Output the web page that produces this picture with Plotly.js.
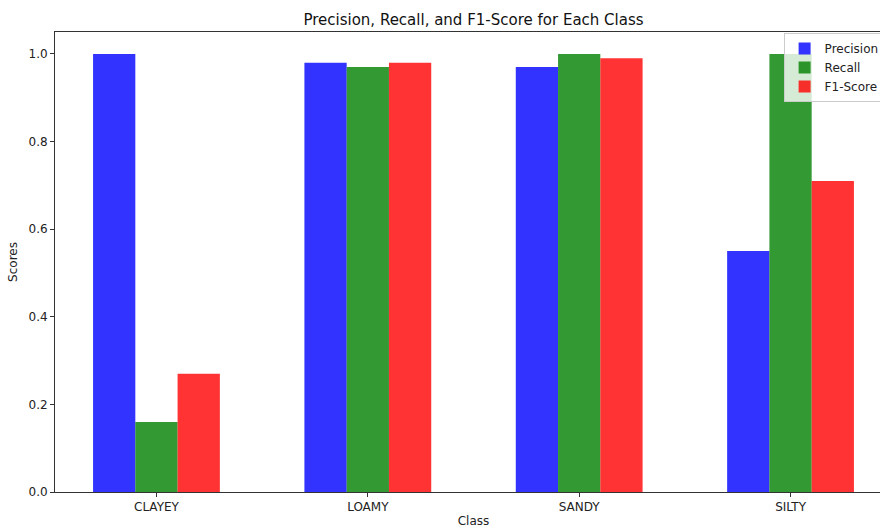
<!DOCTYPE html>
<html>
<head>
<meta charset="utf-8">
<script src="https://cdn.plot.ly/plotly-3.0.1.min.js"></script>
<style>html,body{margin:0;padding:0;background:#fff;overflow:hidden;}#wrap{width:880px;height:528px;overflow:hidden;}#chart{width:892px;height:528px;}</style>
</head>
<body>
<div id="wrap"><div id="chart"></div></div>
<script>
const classes = ["CLAYEY", "LOAMY", "SANDY", "SILTY"];
const precision = [1.00, 0.98, 0.97, 0.55];
const recall = [0.16, 0.97, 1.00, 1.00];
const f1score = [0.27, 0.98, 0.99, 0.71];
const yTicks = [0, 0.2, 0.4, 0.6, 0.8, 1.0];

const font = {family: "DejaVu Sans, sans-serif", size: 12, color: "#222"};

const traces = [
  {type: "bar", name: "Precision", x: classes, y: precision, marker: {color: "rgba(0,0,255,0.8)", line: {width: 0}}},
  {type: "bar", name: "Recall", x: classes, y: recall, marker: {color: "rgba(0,128,0,0.8)", line: {width: 0}}},
  {type: "bar", name: "F1-Score", x: classes, y: f1score, marker: {color: "rgba(255,0,0,0.8)", line: {width: 0}}}
];

const layout = {
  width: 892, height: 528,
  margin: {l: 55, r: 0, t: 32, b: 36, pad: 0},
  paper_bgcolor: "#fff", plot_bgcolor: "#fff",
  font: font,
  barmode: "group", bargap: 0.4, bargroupgap: 0,
  showlegend: true,
  title: {text: "Precision, Recall, and F1-Score for Each Class", x: 0.5, xref: "paper", xanchor: "center", y: 0.972, yref: "container", font: {family: "DejaVu Sans, sans-serif", size: 15, color: "#111"}},
  xaxis: {
    type: "category", range: [-0.48, 3.48], showgrid: false, zeroline: false,
    showline: true, linecolor: "#333", linewidth: 1, mirror: true,
    ticks: "outside", ticklen: 4, tickcolor: "#333", tickfont: font,
    title: {text: "Class", font: font, standoff: 14}, automargin: false
  },
  yaxis: {
    range: [0, 1.05], showgrid: false, zeroline: false,
    showline: true, linecolor: "#333", linewidth: 1, mirror: true,
    ticks: "outside", ticklen: 4, tickcolor: "#333", tickfont: font,
    tickvals: yTicks, tickformat: ".1f",
    title: {text: "Scores", font: font, standoff: 8}, automargin: false
  },
  legend: {
    x: 0.8705, y: 0.998, xanchor: "left", yanchor: "top",
    bgcolor: "rgba(255,255,255,0.8)", bordercolor: "#ccc", borderwidth: 1,
    font: font, itemwidth: 30, tracegroupgap: 0
  }
};

Plotly.newPlot("chart", traces, layout, {displayModeBar: false, staticPlot: true});
</script>
</body>
</html>
